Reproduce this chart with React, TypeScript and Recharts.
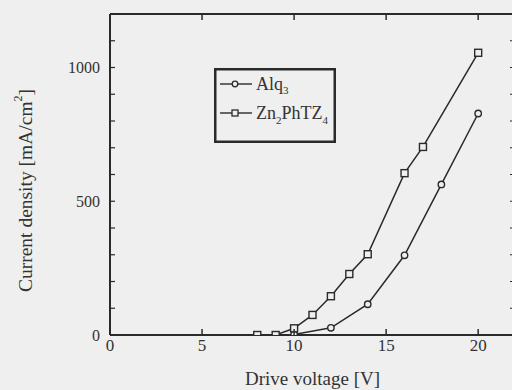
import React from "react";
import { LineChart, Line, XAxis, YAxis } from "recharts";

const voltageZn = [8, 9, 10, 11, 12, 13, 14, 16, 17, 20];
const currentZn = [0, 0, 25, 75, 145, 228, 302, 605, 703, 1055];
const voltageAlq = [10, 12, 14, 16, 18, 20];
const currentAlq = [2, 27, 115, 298, 563, 828];

const xTicks = [0, 5, 10, 15, 20];
const topTicks = [5, 10, 15, 20];
const yTicks = [0, 100, 200, 300, 400, 500, 600, 700, 800, 900, 1000, 1100, 1200];
const yLabeled = [0, 500, 1000];

const znData = voltageZn.map((v, i) => ({ v, j: currentZn[i] }));
const alqData = voltageAlq.map((v, i) => ({ v, j: currentAlq[i] }));

const INK = "#2a2a2a";
const BG = "#efefef";
const FONT = "'Liberation Serif', 'DejaVu Serif', serif";

const BottomTick = (props: any) => {
  const { x, y, payload } = props;
  return (
    <g>
      <line x1={x} y1={y} x2={x} y2={y - 6} stroke={INK} strokeWidth={1.5} />
      <text x={x} y={y + 16} textAnchor="middle" fontFamily={FONT} fontSize={17} fill="#333">
        {payload.value}
      </text>
    </g>
  );
};

const TopTick = (props: any) => {
  const { x, y } = props;
  return <line x1={x} y1={y} x2={x} y2={y + 6} stroke={INK} strokeWidth={1.5} />;
};

const LeftTick = (props: any) => {
  const { x, y, payload } = props;
  const show = yLabeled.includes(payload.value);
  return (
    <g>
      <line x1={x} y1={y} x2={x + 5} y2={y} stroke={INK} strokeWidth={1.2} />
      {show && (
        <text x={x - 10} y={y} dy="0.35em" textAnchor="end" fontFamily={FONT} fontSize={16} fill="#333">
          {payload.value}
        </text>
      )}
    </g>
  );
};

const RightTick = (props: any) => {
  const { x, y } = props;
  return <line x1={x} y1={y} x2={x - 5} y2={y} stroke={INK} strokeWidth={1.2} />;
};

const Square = (props: any) => {
  const { cx, cy } = props;
  if (cx == null || cy == null) return <g />;
  return <rect x={cx - 3.5} y={cy - 3.5} width={7} height={7} fill={BG} stroke={INK} strokeWidth={1.4} />;
};

const Circle = (props: any) => {
  const { cx, cy } = props;
  if (cx == null || cy == null) return <g />;
  return <circle cx={cx} cy={cy} r={3.2} fill={BG} stroke={INK} strokeWidth={1.4} />;
};

const YLabel = (props: any) => {
  const vb = props.viewBox || { x: 0, y: 0, height: 0 };
  const cx = 25;
  const cy = vb.y + vb.height / 2 + 16;
  return (
    <text
      x={cx}
      y={cy}
      transform={`rotate(-90, ${cx}, ${cy})`}
      textAnchor="middle"
      dominantBaseline="central"
      fontFamily={FONT}
      fontSize={19.5}
      fill="#333"
    >
      Current density [mA/cm<tspan dy={-7} fontSize={12}>2</tspan>
      <tspan dy={7}>]</tspan>
    </text>
  );
};

const LegendBox = () => (
  <svg width={122} height={75} style={{ display: "block" }}>
    <rect x={1.25} y={1.25} width={119.5} height={72.5} fill="none" stroke={INK} strokeWidth={2.5} />
    <line x1={6} y1={16} x2={38} y2={16} stroke={INK} strokeWidth={1.4} />
    <circle cx={21} cy={16} r={2.8} fill={BG} stroke={INK} strokeWidth={1.3} />
    <text x={42} y={22} fontFamily={FONT} fontSize={18} fill="#333">
      Alq<tspan dy={4} fontSize={11}>3</tspan>
    </text>
    <line x1={6} y1={45} x2={38} y2={45} stroke={INK} strokeWidth={1.4} />
    <rect x={18} y={42} width={6} height={6} fill={BG} stroke={INK} strokeWidth={1.3} />
    <text x={42} y={51} fontFamily={FONT} fontSize={18} fill="#333">
      Zn<tspan dy={5} fontSize={11}>2</tspan>
      <tspan dy={-5}>PhTZ</tspan>
      <tspan dy={5} fontSize={11}>4</tspan>
    </text>
  </svg>
);

export default function App() {
  return (
    <div
      style={{
        position: "absolute",
        left: 0,
        top: 0,
        width: 512,
        height: 390,
        overflow: "hidden",
        background: BG,
      }}
    >
      <LineChart
        width={516}
        height={390}
        margin={{ top: 13, right: 0, left: 0, bottom: 0 }}
      >
        <XAxis
          dataKey="v"
          type="number"
          domain={[0, 22]}
          ticks={xTicks}
          interval={0}
          allowDataOverflow
          height={55}
          tickSize={0}
          tickMargin={0}
          tick={<BottomTick />}
          axisLine={{ stroke: INK, strokeWidth: 2 }}
          label={{
            value: "Drive voltage [V]",
            position: "insideBottom",
            offset: 5,
            style: { fontFamily: FONT, fontSize: 19, fill: "#333" },
          }}
        />
        <XAxis
          xAxisId="top"
          orientation="top"
          dataKey="v"
          type="number"
          domain={[0, 22]}
          ticks={topTicks}
          interval={0}
          allowDataOverflow
          height={1}
          tickSize={0}
          tickMargin={0}
          tick={<TopTick />}
          axisLine={{ stroke: INK, strokeWidth: 2 }}
        />
        <YAxis
          dataKey="j"
          type="number"
          domain={[0, 1200]}
          ticks={yTicks}
          interval={0}
          allowDataOverflow
          width={110}
          tickSize={0}
          tickMargin={0}
          tick={<LeftTick />}
          axisLine={{ stroke: INK, strokeWidth: 2 }}
          label={<YLabel />}
        />
        <YAxis
          yAxisId="right"
          orientation="right"
          dataKey="j"
          type="number"
          domain={[0, 1200]}
          ticks={yTicks}
          interval={0}
          allowDataOverflow
          width={1}
          tickSize={0}
          tickMargin={0}
          tick={<RightTick />}
          axisLine={{ stroke: INK, strokeWidth: 2 }}
        />
        <Line
          data={alqData}
          dataKey="j"
          xAxisId="top"
          yAxisId="right"
          type="linear"
          stroke={INK}
          strokeWidth={1.5}
          dot={<Circle />}
          isAnimationActive={false}
        />
        <Line
          data={znData}
          dataKey="j"
          type="linear"
          stroke={INK}
          strokeWidth={1.5}
          dot={<Square />}
          isAnimationActive={false}
        />
      </LineChart>
      <div style={{ position: "absolute", left: 214, top: 68 }}>
        <LegendBox />
      </div>
    </div>
  );
}
